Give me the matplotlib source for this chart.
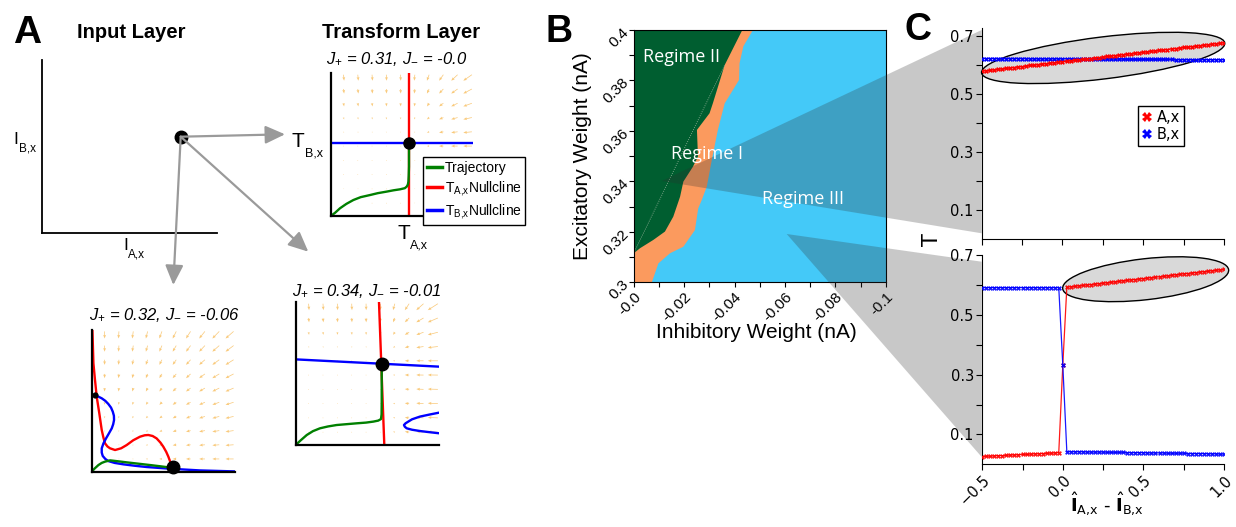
import numpy as np
import matplotlib
matplotlib.use('Agg')
import matplotlib.pyplot as plt
from matplotlib.patches import Ellipse, Polygon, FancyArrowPatch
from matplotlib.lines import Line2D
from matplotlib.transforms import IdentityTransform

plt.rcParams['font.family'] = ['Liberation Sans', 'DejaVu Sans']
plt.rcParams['mathtext.fontset'] = 'custom'
plt.rcParams['mathtext.rm'] = 'Liberation Sans'
plt.rcParams['mathtext.it'] = 'Liberation Sans:italic'
plt.rcParams['mathtext.bf'] = 'Liberation Sans:bold'

# ---------------- data ----------------
# panel A: input layer point
input_point = [0.791, 0.557]

# vector field grid (same for the three phase planes)
field_pos = [0.09, 0.19, 0.29, 0.39, 0.49, 0.59, 0.69, 0.79, 0.89, 0.99]

# J+ = 0.31, J- = -0.0
u_cols_31 = [0.004, 0.004, 0.003, 0.002, 0.001, -0.004, -0.015, -0.03, -0.045, -0.06]
v_rows_31 = [0.003, 0.003, 0.002, 0.002, 0.0, -0.006, -0.013, -0.022, -0.032, -0.042]
traj_31_x = [0, 0.030, 0.065, 0.110, 0.159, 0.210, 0.276, 0.330, 0.393, 0.440, 0.486, 0.520, 0.533, 0.541, 0.545, 0.547, 0.549, 0.549]
traj_31_y = [0, 0.022, 0.054, 0.085, 0.112, 0.132, 0.147, 0.160, 0.171, 0.180, 0.187, 0.195, 0.206, 0.220, 0.241, 0.280, 0.346, 0.514]
nullA_31_x = [0.549, 0.549]
nullA_31_y = [0.0, 1.0]
nullB_31_x = [0.0, 1.0]
nullB_31_y = [0.514, 0.514]
fixed_31 = [0.549, 0.514]

# J+ = 0.32, J- = -0.06
u_cols_32 = [0.0, -0.003, -0.007, -0.012, -0.018, -0.025, -0.032, -0.04, -0.048, -0.056]
v_rows_32 = [0.0, -0.004, -0.008, -0.013, -0.018, -0.024, -0.03, -0.036, -0.043, -0.05]
nullA_32_x = [0.005, 0.012, 0.023, 0.035, 0.053, 0.070, 0.082, 0.093, 0.110, 0.128, 0.163, 0.205, 0.244, 0.290,
              0.337, 0.370, 0.395, 0.425, 0.453, 0.480, 0.500, 0.520, 0.535, 0.548, 0.558, 0.565]
nullA_32_y = [1.000, 0.765, 0.647, 0.529, 0.412, 0.294, 0.240, 0.200, 0.178, 0.165, 0.153, 0.165, 0.188, 0.222,
              0.247, 0.257, 0.259, 0.252, 0.235, 0.205, 0.176, 0.140, 0.106, 0.070, 0.035, 0.000]
nullB_32_x = [0.000, 0.012, 0.040, 0.070, 0.095, 0.116, 0.135, 0.147, 0.155, 0.156, 0.150, 0.140, 0.120, 0.100,
              0.082, 0.070, 0.070, 0.077, 0.095, 0.116, 0.160, 0.221, 0.300, 0.384, 0.547, 0.756, 1.000]
nullB_32_y = [0.545, 0.541, 0.533, 0.518, 0.500, 0.478, 0.452, 0.424, 0.395, 0.365, 0.335, 0.306, 0.270, 0.235,
              0.200, 0.165, 0.135, 0.111, 0.090, 0.075, 0.062, 0.052, 0.042, 0.033, 0.021, 0.009, 0.002]
traj_32_x = [0.000, 0.020, 0.047, 0.070, 0.093, 0.128, 0.180, 0.244, 0.330, 0.407, 0.480, 0.558]
traj_32_y = [0.000, 0.022, 0.047, 0.062, 0.071, 0.080, 0.074, 0.066, 0.056, 0.047, 0.038, 0.028]
fixed_32 = [0.570, 0.030]
saddle_32 = [0.023, 0.538]

# J+ = 0.34, J- = -0.01
u_cols_34 = [0.003, 0.003, 0.002, 0.002, 0.001, 0.0, -0.012, -0.03, -0.05, -0.07]
v_rows_34 = [0.004, 0.003, 0.003, 0.002, 0.001, 0.0, -0.008, -0.018, -0.03, -0.045]
nullA_34_x = [0.580, 0.617]
nullA_34_y = [1.0, 0.0]
nullB_34_x = [0.0, 1.0]
nullB_34_y = [0.600, 0.549]
nullB2_34_x = [1.0, 0.93, 0.865, 0.81, 0.784, 0.765, 0.754, 0.760, 0.773, 0.81, 0.865, 0.93, 1.0]
nullB2_34_y = [0.227, 0.213, 0.199, 0.180, 0.164, 0.152, 0.140, 0.128, 0.117, 0.107, 0.098, 0.090, 0.082]
traj_34_x = [0, 0.035, 0.077, 0.120, 0.169, 0.225, 0.285, 0.355, 0.425, 0.490, 0.541, 0.575, 0.594, 0.598, 0.599, 0.599]
traj_34_y = [0, 0.033, 0.070, 0.097, 0.117, 0.130, 0.140, 0.146, 0.152, 0.157, 0.164, 0.171, 0.182, 0.215, 0.300, 0.568]
fixed_34 = [0.599, 0.568]

# panel B: regime boundaries (inhibitory weight, excitatory weight)
green_edge_x = [0.0, -0.0025, -0.0078, -0.0124, -0.0157, -0.0184, -0.0197, -0.0235, -0.0255, -0.0251, -0.0301,
                -0.0314, -0.0361, -0.0431]
green_edge_y = [0.3115, 0.3135, 0.3168, 0.3201, 0.3260, 0.3339, 0.3399, 0.3458, 0.3498, 0.3604, 0.3670,
                0.3709, 0.3861, 0.4000]
orange_edge_x = [-0.0072, -0.0098, -0.0144, -0.0197, -0.0243, -0.0256, -0.0270, -0.0290, -0.0310, -0.0334,
                 -0.0361, -0.0418, -0.0420, -0.0435, -0.0473]
orange_edge_y = [0.3000, 0.3075, 0.3115, 0.3141, 0.3207, 0.3293, 0.3326, 0.3379, 0.3485, 0.3604,
                 0.3709, 0.3802, 0.3868, 0.3935, 0.4000]
diag_x = [0.0, -0.0361]
diag_y = [0.3115, 0.3861]

# panel C: steady state vs input difference
i_diff = [-0.5, -0.475, -0.45, -0.425, -0.4, -0.375, -0.35, -0.325, -0.3, -0.275, -0.25, -0.225, -0.2, -0.175,
          -0.15, -0.125, -0.1, -0.075, -0.05, -0.025, 0.0, 0.025, 0.05, 0.075, 0.1, 0.125, 0.15, 0.175, 0.2,
          0.225, 0.25, 0.275, 0.3, 0.325, 0.35, 0.375, 0.4, 0.425, 0.45, 0.475, 0.5, 0.525, 0.55, 0.575, 0.6,
          0.625, 0.65, 0.675, 0.7, 0.725, 0.75, 0.775, 0.8, 0.825, 0.85, 0.875, 0.9, 0.925, 0.95, 0.975, 1.0]
top_A = [0.577, 0.579, 0.580, 0.582, 0.584, 0.585, 0.587, 0.588, 0.590, 0.592, 0.593, 0.595, 0.597, 0.598,
         0.600, 0.602, 0.603, 0.605, 0.606, 0.608, 0.610, 0.611, 0.613, 0.615, 0.616, 0.618, 0.619, 0.621,
         0.623, 0.624, 0.626, 0.628, 0.629, 0.631, 0.632, 0.634, 0.636, 0.637, 0.639, 0.641, 0.642, 0.644,
         0.646, 0.647, 0.649, 0.650, 0.652, 0.654, 0.655, 0.657, 0.659, 0.660, 0.662, 0.663, 0.665, 0.667,
         0.668, 0.670, 0.672, 0.673, 0.675]
top_B = [0.621] * 12 + [0.620] * 12 + [0.619] * 12 + [0.618] * 12 + [0.617] * 13
bot_A = [0.026, 0.027, 0.027, 0.028, 0.029, 0.029, 0.030, 0.031, 0.031, 0.032, 0.033, 0.033, 0.034, 0.035,
         0.035, 0.036, 0.037, 0.037, 0.038, 0.039, 0.332,
         0.592, 0.594, 0.595, 0.597, 0.598, 0.600, 0.601, 0.603, 0.604, 0.606, 0.607, 0.609, 0.610, 0.612,
         0.614, 0.615, 0.617, 0.618, 0.620, 0.621, 0.623, 0.624, 0.626, 0.627, 0.629, 0.630, 0.632, 0.634,
         0.635, 0.637, 0.638, 0.640, 0.641, 0.643, 0.644, 0.646, 0.647, 0.649, 0.650, 0.652]
bot_B = [0.591] * 20 + [0.332] + [0.042] * 5 + [0.041] * 5 + [0.040] * 5 + [0.039] * 5 + [0.038] * 5 \
        + [0.037] * 5 + [0.036] * 5 + [0.035] * 3 + [0.034] * 2

# ---------------- figure ----------------
W, H = 1236, 527
fig = plt.figure(figsize=(W / 100, H / 100), dpi=100)
renderer = fig.canvas.get_renderer()


def px_axes(left, top, right, bottom):
    return fig.add_axes([left / W, 1 - bottom / H, (right - left) / W, (bottom - top) / H])


def ftext(x, y, s, **kw):
    return fig.text(x / W, 1 - y / H, s, **kw)


def sub_label(x, y, main, sub, fs_main, fs_sub, drop):
    # letter with a small, lowered subscript (x, y = left, baseline in pixels)
    t = ftext(x, y, main, fontsize=fs_main, ha='left', va='baseline')
    bb = t.get_window_extent(renderer)
    fig.text((bb.x1 + 0.5) / W, 1 - (y + drop) / H, sub, fontsize=fs_sub, ha='left', va='baseline')


def phase_axes(ax, uc, vr):
    ax.set_xlim(0, 1)
    ax.set_ylim(0, 1)
    ax.set_xticks([])
    ax.set_yticks([])
    for s in ['top', 'right']:
        ax.spines[s].set_visible(False)
    for s in ['left', 'bottom']:
        ax.spines[s].set_linewidth(1.6)
        ax.spines[s].set_zorder(5)
    X, Y = np.meshgrid(field_pos, field_pos)
    U = np.tile(uc, (len(field_pos), 1))
    V = np.tile(np.array(vr)[:, None], (1, len(field_pos)))
    ax.quiver(X, Y, U, V, angles='xy', scale_units='xy', scale=1, color='#f5a623', alpha=0.6,
              width=0.005, headwidth=4, headlength=5, headaxislength=4.5, zorder=1)


lw_c = 1.7

# --- A: input layer
ax_in = px_axes(42.3, 60, 217.3, 233.3)
ax_in.set_xlim(0, 1)
ax_in.set_ylim(0, 1)
ax_in.set_xticks([])
ax_in.set_yticks([])
for s in ['top', 'right']:
    ax_in.spines[s].set_visible(False)
for s in ['left', 'bottom']:
    ax_in.spines[s].set_linewidth(1.3)
ax_in.plot(input_point[0], input_point[1], 'o', color='k', ms=9, zorder=6)

# --- transform layer (top)
ax31 = px_axes(330.7, 73.3, 473.3, 216)
phase_axes(ax31, u_cols_31, v_rows_31)
l1, = ax31.plot(traj_31_x, traj_31_y, color='green', lw=lw_c, zorder=3, label='Trajectory')
l2, = ax31.plot(nullA_31_x, nullA_31_y, color='red', lw=lw_c, zorder=2,
                label=r'$\mathrm{T}_{\mathrm{A{,}x}}$Nullcline')
l3, = ax31.plot(nullB_31_x, nullB_31_y, color='blue', lw=lw_c, zorder=2,
                label=r'$\mathrm{T}_{\mathrm{B{,}x}}$Nullcline')
ax31.plot(*fixed_31, 'o', color='k', ms=8, zorder=4, clip_on=False)
leg = ax31.legend(handles=[l1, l2, l3], loc='upper left', bbox_to_anchor=(423.3 / W, 1 - 157.3 / H),
                  bbox_transform=fig.transFigure, fontsize=10, fancybox=False, edgecolor='k',
                  framealpha=1, handlelength=1.1, handletextpad=0.2, borderpad=0.25, labelspacing=0.3,
                  borderaxespad=0)
leg.get_frame().set_linewidth(1)
for ln in leg.get_lines():
    ln.set_linewidth(2.5)

# --- J+ = 0.32
ax32 = px_axes(91.7, 330, 235, 471.7)
phase_axes(ax32, u_cols_32, v_rows_32)
ax32.plot(nullA_32_x, nullA_32_y, color='red', lw=lw_c, zorder=2)
ax32.plot(nullB_32_x, nullB_32_y, color='blue', lw=lw_c, zorder=2)
ax32.plot(traj_32_x, traj_32_y, color='green', lw=lw_c, zorder=3)
ax32.plot(*fixed_32, 'o', color='k', ms=9, zorder=4, clip_on=False)
ax32.plot(*saddle_32, 'o', color='k', ms=3.5, zorder=4)

# --- J+ = 0.34
ax34 = px_axes(295.7, 302.3, 439.3, 445)
phase_axes(ax34, u_cols_34, v_rows_34)
ax34.plot(nullA_34_x, nullA_34_y, color='red', lw=lw_c, zorder=2)
ax34.plot(nullB_34_x, nullB_34_y, color='blue', lw=lw_c, zorder=2)
ax34.plot(nullB2_34_x, nullB2_34_y, color='blue', lw=lw_c, zorder=2)
ax34.plot(traj_34_x, traj_34_y, color='green', lw=lw_c, zorder=3)
ax34.plot(*fixed_34, 'o', color='k', ms=9, zorder=4)

# --- panel A texts
ftext(26.7, 43.3, 'A', fontsize=28, fontweight='bold', ha='center', va='baseline')
ftext(131.7, 37.5, 'Input Layer', fontsize=14.5, fontweight='bold', ha='center', va='baseline')
ftext(401, 38.3, 'Transform Layer', fontsize=14.5, fontweight='bold', ha='center', va='baseline')
sub_label(13.5, 144, 'I', 'B,x', 12.5, 8.5, 7.5)
sub_label(123, 250.5, 'I', 'A,x', 12.5, 8.5, 7.5)
sub_label(291.5, 146.7, 'T', 'B,x', 15, 9, 9.5)
sub_label(397, 238.5, 'T', 'A,x', 15, 9, 9.5)
ftext(396.7, 64.3, r'$J_{+}$ = 0.31, $J_{-}$ = -0.0', fontsize=12, style='italic', ha='center', va='baseline')
ftext(164.3, 320, r'$J_{+}$ = 0.32, $J_{-}$ = -0.06', fontsize=12, style='italic', ha='center', va='baseline')
ftext(366.7, 296, r'$J_{+}$ = 0.34, $J_{-}$ = -0.01', fontsize=12, style='italic', ha='center', va='baseline')

# --- B: regime map
c_green, c_orange, c_blue = '#005e30', '#fb9a5e', '#44c9f8'
axB = px_axes(633.7, 30, 885.7, 282.3)
axB.set_facecolor(c_blue)
axB.fill([0.0] + orange_edge_x + [0.0], [0.3] + orange_edge_y + [0.4], color=c_orange, lw=0)
axB.fill([0.0] + green_edge_x + [0.0], [0.3115] + green_edge_y + [0.4], color=c_green, lw=0)
axB.plot(diag_x, diag_y, ls=':', color='#9fb7a0', lw=0.6)
axB.set_xlim(0, -0.1)
axB.set_ylim(0.3, 0.4)
xt = np.round(np.arange(0, -0.1001, -0.01), 2)
yt = np.round(np.arange(0.3, 0.4001, 0.01), 2)
axB.set_xticks(xt)
axB.set_yticks(yt)
axB.set_xticklabels(['-0.0', '', '-0.02', '', '-0.04', '', '-0.06', '', '-0.08', '', '-0.1'],
                    rotation=45, ha='right', va='top', rotation_mode='anchor', fontsize=11)
axB.set_yticklabels(['0.3', '', '0.32', '', '0.34', '', '0.36', '', '0.38', '', '0.4'],
                    rotation=45, ha='right', va='center', rotation_mode='anchor', fontsize=11)
axB.tick_params(length=3.5, width=0.8, pad=2)
for s in axB.spines.values():
    s.set_linewidth(0.8)
ftext(559, 41.7, 'B', fontsize=27, fontweight='bold', ha='center', va='baseline')
ftext(583, 156, 'Excitatory Weight (nA)', fontsize=15, rotation=90, ha='center', va='center')
ftext(756, 333, 'Inhibitory Weight (nA)', fontsize=15, ha='center', va='center')

# --- C: steady states
axC1 = px_axes(981.7, 28, 1224, 239)
axC2 = px_axes(982.2, 255, 1224, 464.3)
for ax in (axC1, axC2):
    ax.set_zorder(3)
    for s in ['top', 'right']:
        ax.spines[s].set_visible(False)
    ax.set_xlim(-0.5, 1.0)
    ax.set_xticks([-0.5, -0.25, 0, 0.25, 0.5, 0.75, 1.0])
    ax.set_yticks([0.1, 0.2, 0.3, 0.4, 0.5, 0.6, 0.7])
    ax.set_yticklabels(['0.1', '', '0.3', '', '0.5', '', '0.7'], fontfamily='DejaVu Sans', fontsize=10.5)
    ax.tick_params(length=4, width=0.8, pad=2)
axC1.set_ylim(0, 0.726)
axC2.set_ylim(0, 0.70)
axC1.set_xticklabels([])
axC2.set_xticklabels(['\u22120.5', '', '0.0', '', '0.5', '', '1.0'], fontfamily='DejaVu Sans', fontsize=10.5,
                     rotation=45, ha='right', va='top', rotation_mode='anchor')

axC1.plot(i_diff, top_B, color='blue', lw=1, marker='X', ms=3.5, mew=0, zorder=3)
axC1.plot(i_diff, top_A, color='red', lw=1, marker='X', ms=3.5, mew=0, zorder=3)
axC2.plot(i_diff, bot_A, color='red', lw=0.9, marker='X', ms=3.5, mew=0, zorder=3, alpha=0.9)
axC2.plot(i_diff, bot_B, color='blue', lw=0.9, marker='X', ms=3.5, mew=0, zorder=3, alpha=0.9)

# highlight ellipses (size in pixels, centre in data)
for ax, cx, cy, w, h, ang in [(axC1, 0.252, 0.623, 245, 42, 7), (axC2, 0.514, 0.619, 167, 41, 6.5)]:
    c = ax.transData.transform((cx, cy))
    e = Ellipse(c, w, h, angle=ang, transform=IdentityTransform(), facecolor='#d9d9d9', edgecolor='k',
                lw=1, zorder=1, clip_on=False)
    ax.add_artist(e)

hand = [Line2D([], [], marker='X', color='red', ls='none', ms=7, mew=0),
        Line2D([], [], marker='X', color='blue', ls='none', ms=7, mew=0)]
legC = axC1.legend(hand, ['A,x', 'B,x'], loc='upper left', bbox_to_anchor=(0.644, 0.63), fancybox=False,
                   edgecolor='k', framealpha=1, prop={'family': 'DejaVu Sans', 'size': 10.5},
                   handlelength=0.7, handletextpad=0.3, borderpad=0.3, labelspacing=0.1, borderaxespad=0)
legC.get_frame().set_linewidth(1)

ftext(918, 40, 'C', fontsize=27, fontweight='bold', ha='center', va='baseline')
ftext(932, 240, 'T', fontsize=15, rotation=90, ha='center', va='center', family='DejaVu Sans')
ftext(1107, 512, r'$\hat{\mathbf{I}}_{\mathrm{A{,}x}}$ - $\hat{\mathbf{I}}_{\mathrm{B{,}x}}$', fontsize=13,
      ha='center', va='baseline', family='DejaVu Sans', math_fontfamily='dejavusans')

# --- overlay: arrows and zoom wedges in pixel coordinates
ov = fig.add_axes([0, 0, 1, 1])
ov.set_xlim(0, W)
ov.set_ylim(H, 0)
ov.axis('off')
ov.set_zorder(2)
start = (180.7, 136.7)
for tip in [(285, 134.3), (173.3, 285), (308.3, 251.7)]:
    ov.add_patch(FancyArrowPatch(start, tip, arrowstyle='-|>,head_length=12,head_width=5.5', mutation_scale=1,
                                 color='#9a9a9a', lw=1.6, shrinkA=0, shrinkB=0))
for poly in [[(661.7, 181), (981.7, 30), (981.7, 233.3)], [(786.7, 234), (981.7, 261.7), (981.7, 457)]]:
    ov.add_patch(Polygon(poly, closed=True, facecolor='#2e2e2e', alpha=0.26, lw=0))

# regime names sit above the wedges
for lab, px, py in [('Regime II', 681.7, 57.3), ('Regime I', 706.7, 154), ('Regime III', 802.7, 199.3)]:
    ftext(px, py, lab, color='white', fontsize=13, family='Open Sans', ha='center', va='center', zorder=5)

fig.savefig('out.png', dpi=100)
